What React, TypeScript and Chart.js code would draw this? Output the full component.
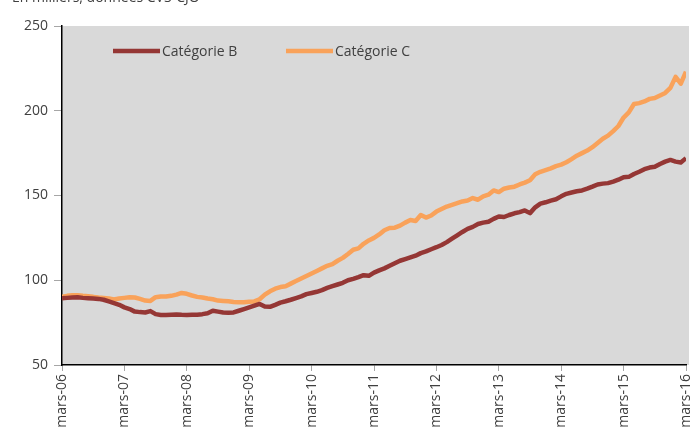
import React, { useEffect, useRef } from "react";
import { Chart, registerables } from "chart.js";

Chart.register(...registerables);

const subtitle = "En milliers, données CVS-CJO";
const tickLabels = ["mars-06", "mars-07", "mars-08", "mars-09", "mars-10", "mars-11", "mars-12", "mars-13", "mars-14", "mars-15", "mars-16"];
const seriesNames = ["Catégorie B", "Catégorie C"];

// monthly values, mars-06 .. mars-16
const categorieB = [
  89.4, 89.6, 89.8, 90, 89.6, 89.4, 89.2, 89, 88.5, 87.5, 86.5, 85.5,
  84, 83, 81.5, 81.2, 81, 81.8, 80, 79.5, 79.5, 79.7, 79.8, 79.6,
  79.5, 79.6, 79.7, 80, 80.5, 82, 81.5, 81, 80.8, 81, 82, 83,
  84, 85, 86, 84.5, 84.3, 85.5, 86.8, 87.6, 88.5, 89.5, 90.5, 91.8,
  92.5, 93.2, 94.2, 95.5, 96.5, 97.5, 98.5, 100, 100.8, 101.8, 103, 102.6,
  104.5, 105.8, 107, 108.5, 110, 111.5, 112.5, 113.5, 114.5, 116, 117, 118.3,
  119.5, 120.8, 122.5, 124.5, 126.5, 128.5, 130.3, 131.5, 133.2, 134, 134.5, 136.2,
  137.6, 137.3, 138.5, 139.5, 140.2, 141.2, 139.6, 143, 145.2, 146, 147, 147.8,
  149.5, 151, 151.8, 152.5, 153, 154, 155.2, 156.5, 157, 157.3, 158.2, 159.3,
  160.8, 161, 162.7, 164, 165.5, 166.5, 167, 168.6, 170, 171, 170, 169.5,
  172,
];
const categorieC = [
  90.2, 90.8, 91.2, 91.2, 90.8, 90.5, 90.2, 89.8, 89.5, 89.2, 88.6, 89.2,
  89.6, 90, 89.8, 89, 88, 87.8, 90, 90.4, 90.4, 90.8, 91.5, 92.5,
  92, 91, 90.2, 89.8, 89.2, 88.8, 88, 87.8, 87.6, 87.2, 87, 87,
  87.3, 87.5, 88.8, 91.5, 93.5, 95, 96, 96.5, 98, 99.5, 101, 102.5,
  104, 105.5, 107, 108.5, 109.5, 111.5, 113.2, 115.5, 118, 118.8, 121.5, 123.5,
  125, 127, 129.5, 130.8, 131, 132.2, 134, 135.5, 135, 138.5, 137, 138.2,
  140.5, 142, 143.5, 144.5, 145.5, 146.5, 147, 148.5, 147.5, 149.5, 150.5, 153,
  152, 154, 154.7, 155.2, 156.5, 157.6, 159, 162.5, 164, 165, 166, 167.3,
  168.2, 169.6, 171.5, 173.5, 175, 176.5, 178.5, 181, 183.5, 185.3, 188, 191,
  196, 199, 204, 204.5, 205.5, 207, 207.5, 209, 210.5, 213.5, 220, 216,
  223,
];

const FONT = "'Open Sans', 'Noto Sans', sans-serif";
const TEXT = "#404040";

const bgPlugin = {
  id: "plotBg",
  beforeDraw(chart: any) {
    const { ctx, chartArea } = chart;
    ctx.save();
    ctx.fillStyle = "#d9d9d9";
    ctx.fillRect(chartArea.left, chartArea.top, chartArea.right - chartArea.left + 3, chartArea.bottom - chartArea.top);
    ctx.restore();
  },
};

const legendPlugin = {
  id: "innerLegend",
  afterDraw(chart: any) {
    const { ctx, chartArea } = chart;
    const y = chartArea.top + 25;
    const starts = [chartArea.left + 51, chartArea.left + 224];
    ctx.save();
    ctx.font = `14px ${FONT}`;
    ctx.textBaseline = "middle";
    ctx.textAlign = "left";
    chart.data.datasets.forEach((ds: any, i: number) => {
      const x0 = starts[i];
      ctx.strokeStyle = ds.borderColor;
      ctx.lineWidth = 4.5;
      ctx.lineCap = "butt";
      ctx.beginPath();
      ctx.moveTo(x0, y);
      ctx.lineTo(x0 + 47, y);
      ctx.stroke();
      ctx.fillStyle = TEXT;
      ctx.fillText(ds.label, x0 + 49, y + 1);
    });
    ctx.restore();
  },
};

export default function App() {
  const ref = useRef<HTMLCanvasElement>(null);
  useEffect(() => {
    if (!ref.current) return;
    const toPts = (arr: number[]) => arr.map((v, i) => ({ x: i, y: v }));
    const chart = new Chart(ref.current, {
      type: "line",
      data: {
        datasets: [
          {
            label: seriesNames[0],
            data: toPts(categorieB),
            borderColor: "#953735",
            backgroundColor: "#953735",
            borderWidth: 4.5,
            pointRadius: 0,
            tension: 0,
            borderJoinStyle: "round",
          },
          {
            label: seriesNames[1],
            data: toPts(categorieC),
            borderColor: "#f9a25a",
            backgroundColor: "#f9a25a",
            borderWidth: 4.5,
            pointRadius: 0,
            tension: 0,
            borderJoinStyle: "round",
          },
        ],
      },
      options: {
        animation: false,
        responsive: false,
        maintainAspectRatio: false,
        layout: { padding: { top: 26, right: 7, left: 0, bottom: 0 } },
        plugins: { legend: { display: false }, tooltip: { enabled: false }, title: { display: false } },
        scales: {
          x: {
            type: "linear",
            min: 0,
            max: 120,
            afterFit(scale: any) {
              scale.height = 65;
              scale.paddingRight = 0;
              scale.paddingLeft = 0;
            },
            ticks: {
              stepSize: 12,
              autoSkip: false,
              maxRotation: 90,
              minRotation: 90,
              padding: 3,
              color: TEXT,
              font: { family: FONT, size: 14 },
              callback: (v: any) => tickLabels[Math.round(Number(v) / 12)] ?? "",
            },
            grid: { display: true, drawOnChartArea: false, drawTicks: true, tickLength: 6, color: "#a6a6a6", lineWidth: 1 },
            border: { display: true, color: "#000", width: 1.5 },
          },
          y: {
            min: 50,
            max: 250,
            afterFit(scale: any) { scale.width = 62; },
            ticks: {
              stepSize: 50,
              padding: 6,
              color: TEXT,
              font: { family: FONT, size: 14 },
            },
            grid: { display: true, drawOnChartArea: false, drawTicks: true, tickLength: 8, color: "#a6a6a6", lineWidth: 1 },
            border: { display: true, color: "#000", width: 1.5 },
          },
        },
      },
      plugins: [bgPlugin, legendPlugin],
    } as any);
    return () => chart.destroy();
  }, []);

  return (
    <div style={{ position: "fixed", left: 0, top: 0, width: 693, height: 430, overflow: "hidden", background: "#fff" }}>
      <div style={{ position: "absolute", left: 12, top: -13, font: `14px ${FONT}`, color: TEXT, whiteSpace: "nowrap" }}>{subtitle}</div>
      <canvas ref={ref} width={693} height={430} style={{ display: "block" }} />
    </div>
  );
}
